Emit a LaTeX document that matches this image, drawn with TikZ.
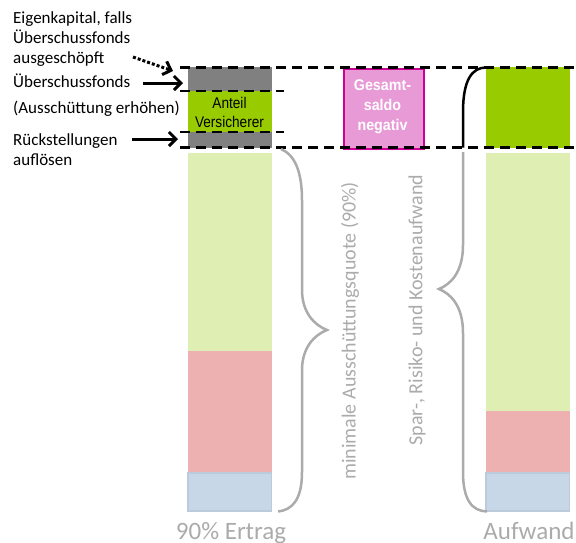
\documentclass[tikz,border=0pt]{standalone}
\usepackage{fontspec}
\setmainfont{Carlito}
\newfontfamily\arialf{Liberation Sans}
\usetikzlibrary{arrows.meta}
\definecolor{dgray}{HTML}{808080}
\definecolor{vgreen}{HTML}{99CC00}
\definecolor{lgreen}{HTML}{DFEEB2}
\definecolor{lpink}{HTML}{EDB1B1}
\definecolor{lblue}{HTML}{C8D7E8}
\definecolor{lblueb}{HTML}{BCCADB}
\definecolor{mfill}{HTML}{E89AD6}
\definecolor{mborder}{HTML}{CC0099}
\definecolor{lgray}{HTML}{ABABAB}
\tikzset{
  bar/.style={draw=none, inner sep=0pt, outer sep=0pt, minimum width=83.5pt, anchor=north west},
  dashline/.style={line width=2.5pt, dash pattern=on 10pt off 6pt},
  lbl/.style={anchor=base west, inner sep=0pt, font=\fontsize{17}{20}\selectfont},
  arr/.style={line width=3pt, -{Straight Barb[length=7pt,width=14pt,line width=3pt]}},
  brace/.style={draw=lgray, line width=2.5pt},
  rot/.style={rotate=90, text=lgray, inner sep=0pt, font=\fontsize{20}{22}\selectfont},
  bottom/.style={text=lgray, inner sep=0pt, anchor=base, font=\fontsize{25}{28}\selectfont}
}
\begin{document}
\begin{tikzpicture}[x=1pt,y=-1pt]
\useasboundingbox (0,0) rectangle (576,542);
% left bar
\node[bar, fill=dgray, minimum height=24pt] (g1) at (188,67) {};
\node[bar, fill=vgreen, minimum height=41pt] (anteil) at (188,91) {};
\node[bar, fill=dgray, minimum height=16pt] (g2) at (188,132) {};
\node[bar, fill=lgreen, minimum height=198pt] (lg1) at (188,153) {};
\node[bar, fill=lpink, minimum height=122pt] (lp1) at (188,351) {};
\node[bar, fill=lblue, draw=lblueb, line width=1.5pt, minimum height=38pt] (lb1) at (188,473) {};
\node[font=\arialf\fontsize{15.5}{19}\selectfont, align=center, inner sep=0pt] (anteiltxt) at (229.5,112)
  {\scalebox{0.88}[1]{Anteil}\\\scalebox{0.88}[1]{Versicherer}};
% right bar
\node[bar, fill=vgreen, minimum height=81pt] (rg) at (486,67) {};
\node[bar, fill=lgreen, minimum height=258pt] (lg2) at (486,153) {};
\node[bar, fill=lpink, minimum height=62pt] (lp2) at (486,411) {};
\node[bar, fill=lblue, draw=lblueb, line width=1.5pt, minimum height=38pt] (lb2) at (486,473) {};
% magenta box
\node[draw=mborder, fill=mfill, line width=2pt, minimum width=80pt, minimum height=80pt, inner sep=0pt,
  anchor=north west] (saldo) at (342.5,68) {};
\node[text=white, font=\arialf\bfseries\fontsize{15.5}{20}\selectfont, align=center, inner sep=0pt] (saldotxt) at (382.5,107)
  {\scalebox{0.92}[1]{Gesamt-}\\\scalebox{0.92}[1]{saldo}\\\scalebox{0.92}[1]{negativ}};
% dashed lines
\coordinate (d1a) at (180,67.5); \coordinate (d1b) at (576,67.5);
\coordinate (d2a) at (180,91); \coordinate (d2b) at (284,91);
\coordinate (d3a) at (180,132); \coordinate (d3b) at (284,132);
\coordinate (d4a) at (180,147.5); \coordinate (d4b) at (576,147.5);
\draw[dashline] (d1a) -- (d1b);
\draw[dashline] (d2a) -- (d2b);
\draw[dashline] (d3a) -- (d3b);
\draw[dashline] (d4a) -- (d4b);
% black brace part
\draw[line width=2.5pt] (463,147.5) -- (463,112) .. controls (463,80) and (472,67.5) .. (486,67.5);
% gray braces
\draw[brace] (281,149) .. controls (295,155) and (302,172) .. (302,200) -- (302,290)
  .. controls (302,312) and (314,325) .. (327,330) .. controls (314,335) and (302,348) .. (302,370)
  -- (302,472) .. controls (302,500) and (292,510) .. (278,511.5);
\draw[brace] (463,152) -- (463,245) .. controls (463,272) and (451,284) .. (439,289)
  .. controls (451,294) and (463,306) .. (463,333) -- (463,472) .. controls (463,500) and (472,511) .. (487,511.5);
% rotated labels
\node[rot] (quote) at (350,331) {minimale Ausschüttungsquote (90\%)};
\node[rot] (spar) at (417,310) {Spar-, Risiko- und Kostenaufwand};
% bottom labels
\node[bottom] (ertrag) at (231,539) {90\% Ertrag};
\node[bottom] (aufwand) at (529,539) {Aufwand};
% left labels
\node[lbl] (t1) at (13,23) {Eigenkapital, falls};
\node[lbl] (t2) at (13,43) {Überschussfonds};
\node[lbl] (t3) at (13,63) {ausgeschöpft};
\node[lbl] (t4) at (13,87) {Überschussfonds};
\node[lbl] (t5) at (13,113) {(Ausschüttung erhöhen)};
\node[lbl] (t6) at (13,145) {Rückstellungen};
\node[lbl] (t7) at (13,165) {auflösen};
% arrows
\coordinate (a1s) at (133,57); \coordinate (a1e) at (173,71);
\coordinate (a2s) at (143,83); \coordinate (a2e) at (183,83);
\coordinate (a3s) at (132,139); \coordinate (a3e) at (178,139);
\draw[arr, dotted] (a1s) -- (a1e);
\draw[arr] (a2s) -- (a2e);
\draw[arr] (a3s) -- (a3e);
\end{tikzpicture}
\end{document}
